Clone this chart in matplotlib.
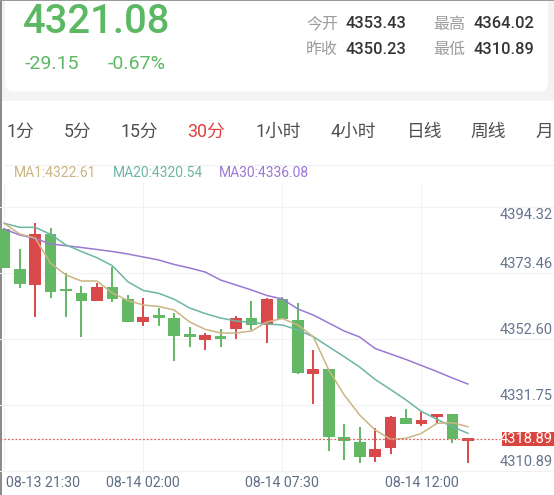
import matplotlib
matplotlib.use('Agg')
import matplotlib.pyplot as plt
from matplotlib.patches import FancyBboxPatch, Rectangle
from matplotlib.lines import Line2D

plt.rcParams['font.family'] = ['Roboto', 'Noto Sans CJK SC', 'DejaVu Sans']

##
# Data (30 min candles)
##
opens = [4387.37, 4374.73, 4369.77, 4385.69, 4367.77, 4367.05, 4364.71, 4368.94, 4365.15, 4358.07,
         4359.46, 4359.15, 4353.46, 4352.29, 4353.55, 4355.67, 4359.34, 4357.03, 4365.15, 4358.61,
         4341.55, 4343.03, 4321.54, 4320.15, 4315.41, 4318.06, 4327.74, 4325.74, 4327.86, 4328.90,
         4320.47]
highs = [4387.70, 4380.95, 4389.17, 4387.59, 4373.37, 4369.36, 4370.21, 4375.26, 4366.42, 4365.66,
         4362.31, 4360.92, 4356.30, 4354.41, 4355.67, 4359.87, 4364.71, 4365.56, 4365.97, 4364.08,
         4349.13, 4343.10, 4325.74, 4324.70, 4324.57, 4328.27, 4330.39, 4329.63, 4328.90, 4328.95,
         4321.22]
lows = [4374.90, 4368.82, 4359.65, 4365.47, 4359.65, 4353.33, 4364.60, 4364.39, 4357.88, 4356.81,
        4356.81, 4345.75, 4349.98, 4349.13, 4350.17, 4352.61, 4355.45, 4351.25, 4358.83, 4341.70,
        4331.97, 4317.31, 4314.37, 4313.32, 4313.83, 4316.26, 4325.70, 4325.11, 4325.96, 4319.65,
        4313.51]
closes = [4375.04, 4369.89, 4385.69, 4367.46, 4367.62, 4364.71, 4368.94, 4365.15, 4358.07, 4359.56,
          4359.24, 4353.65, 4353.23, 4353.87, 4352.51, 4359.34, 4357.03, 4365.15, 4359.02, 4341.77,
          4343.03, 4321.73, 4320.37, 4315.41, 4317.75, 4327.86, 4325.74, 4327.01, 4328.90, 4320.91,
          4321.08]
ma1 = [4389.17, 4385.79, 4384.52, 4376.53, 4372.83, 4370.93, 4370.93, 4367.14, 4364.77, 4363.35,
       4362.88, 4361.77, 4357.98, 4355.67, 4354.50, 4354.50, 4355.13, 4357.98, 4359.08, 4357.03,
       4353.33, 4342.81, 4334.91, 4328.59, 4323.85, 4320.91, 4321.22, 4322.80, 4325.96, 4326.16,
       4324.89]
ma20 = [4389.17, 4387.90, 4387.90, 4385.69, 4382.31, 4380.26, 4378.30, 4375.77, 4370.71, 4367.93,
        4367.05, 4365.15, 4362.40, 4360.66, 4359.24, 4358.29, 4357.82, 4357.35, 4357.03, 4355.45,
        4353.33, 4350.17, 4347.01, 4343.76, 4339.81, 4336.65, 4333.33, 4329.69, 4327.23, 4324.89,
        4322.80]
ma30 = [4387.37, 4385.47, 4384.43, 4382.63, 4382.09, 4381.52, 4380.89, 4380.26, 4379.47, 4378.52,
        4377.57, 4376.15, 4375.04, 4373.78, 4371.25, 4369.67, 4368.09, 4366.35, 4365.25, 4362.09,
        4360.19, 4357.66, 4355.13, 4353.24, 4349.60, 4347.87, 4346.13, 4344.23, 4342.33, 4340.28,
        4338.38]

y_ticks = [4310.89, 4331.75, 4352.60, 4373.46, 4394.32]
x_tick_idx = [0, 9, 18, 27]
x_tick_labels = ['08-13 21:30', '08-14 02:00', '08-14 07:30', '08-14 12:00']
last_price = 4321.08
last_label = '4318.89'

tabs = ['1分', '5分', '15分', '30分', '1小时', '4小时', '日线', '周线', '月']
tab_active = '30分'
ma_legend = ['MA1:4322.61', 'MA20:4320.54', 'MA30:4336.08']

UP = '#d9484a'
DOWN = '#63b866'
C_MA1 = '#ccb483'
C_MA20 = '#6db6a3'
C_MA30 = '#9b78d4'

W, H = 554, 495
fig = plt.figure(figsize=(W / 100, H / 100), dpi=100)

##
# Background / header (pixel coordinates)
##
bg = fig.add_axes([0, 0, 1, 1])
bg.set_xlim(0, W)
bg.set_ylim(H, 0)
bg.axis('off')
bg.add_patch(Rectangle((0, 0), W, 101, color='#f3f3f3', lw=0))
bg.add_patch(FancyBboxPatch((5, -20), 543, 111.5, boxstyle='round,pad=0,rounding_size=9',
                            fc='white', ec='none'))
bg.add_patch(Rectangle((0, 0), 1.8, H, color='#8c8c8c', lw=0))
bg.add_patch(Rectangle((0, 0), W, 1.2, color='#9a9a9a', lw=0))

green_txt = '#5cb862'
bg.text(23, 21.7, '4321.08', fontsize=28.8, fontweight='medium', color=green_txt, va='center', ha='left')
bg.text(25, 64, '-29.15', fontsize=14, color=green_txt, va='center', ha='left')
bg.text(108, 64, '-0.67%', fontsize=14, color=green_txt, va='center', ha='left')

stats = [('今开', '4353.43', 306, 24), ('最高', '4364.02', 433, 24),
         ('昨收', '4350.23', 306, 49.3), ('最低', '4310.89', 433, 49.3)]
for name, val, x, y in stats:
    bg.text(x, y, name, fontsize=11.5, color='#9b9b9b', va='center', ha='left')
    bg.text(x + 40, y, val, fontsize=11.8, fontweight='medium', color='#333333', va='center', ha='left')

tab_x = [6.5, 63.5, 121, 187.5, 255.5, 330.5, 406.5, 470.5, 536]
for t, x in zip(tabs, tab_x):
    col = '#e0403f' if t == tab_active else '#4f4f4f'
    bg.text(x, 132, t, fontsize=12.8, color=col, va='center', ha='left')

bg.add_line(Line2D([5, W], [165, 165], color='#f0f0f0', lw=0.8))

for t, x, c in zip(ma_legend, [13.4, 112.5, 218.6], [C_MA1, C_MA20, C_MA30]):
    bg.text(x, 173.3, t, fontsize=10, color=c, va='center', ha='left')

##
# Candle chart
##
top_px, bot_px = 183, 471
px_per_unit = (471 - 207) / (y_ticks[-1] - y_ticks[0])
ax = fig.add_axes([0, 1 - bot_px / H, 1, (bot_px - top_px) / H])
ax.patch.set_alpha(0)
for s in ax.spines.values():
    s.set_visible(False)
ax.set_xticks([])
ax.set_yticks([])

step = 15.455
x0 = 4.2
ax.set_xlim(-x0 / step, (W - x0) / step)
ax.set_ylim(y_ticks[0], y_ticks[-1] + (207 - top_px) / px_per_unit)

for v in y_ticks:
    ax.axhline(v, color='#f2f2f2', lw=0.8, zorder=0, clip_on=False)
for i in x_tick_idx:
    ax.axvline(i, color='#f2f2f2', lw=0.8, zorder=0)

xs = list(range(len(opens)))
colors = [UP if c >= o else DOWN for o, c in zip(opens, closes)]
min_h = 2.6 / px_per_unit
bottoms = [min(o, c) for o, c in zip(opens, closes)]
heights = [max(abs(c - o), min_h) for o, c in zip(opens, closes)]
ax.vlines(xs, lows, highs, colors=colors, lw=1.4, zorder=2)
ax.bar(xs, heights, bottom=bottoms, width=0.76, color=colors, lw=0, zorder=3)

ax.plot(xs, ma30, color=C_MA30, lw=1.1, zorder=4)
ax.plot(xs, ma20, color=C_MA20, lw=1.1, zorder=4)
ax.plot(xs, ma1, color=C_MA1, lw=1.1, zorder=4)

# current price line
ax.axhline(last_price, xmax=502 / W, color='#e06060', lw=0.9, ls=(0, (1.5, 1.5)), zorder=5)
box_h = 14 / px_per_unit
ax.add_patch(Rectangle((502 / W, last_price - box_h / 2), 1 - 502 / W, box_h,
                       transform=ax.get_yaxis_transform(), color='#d9443f', lw=0, zorder=6))
ax.text(553 / W, last_price, last_label, transform=ax.get_yaxis_transform(), fontsize=10.5,
        color='white', ha='right', va='center', zorder=7)

# y labels
ylab_col = '#66758c'
for k, v in enumerate(y_ticks):
    off = -8 if k == len(y_ticks) - 1 else 9
    ax.annotate('%.2f' % v, xy=(553 / W, v), xycoords=ax.get_yaxis_transform(),
                xytext=(0, off * 0.72), textcoords='offset points',
                fontsize=10.5, color=ylab_col, ha='right', va='center', zorder=7)

# x labels
for k, (i, lab) in enumerate(zip(x_tick_idx, x_tick_labels)):
    if k == 0:
        bg.text(6, 483.3, lab, fontsize=10.2, color='#5f6e85', ha='left', va='center')
    else:
        bg.text(x0 + i * step, 483.3, lab, fontsize=10.2, color='#5f6e85', ha='center', va='center')

fig.savefig('out.png', dpi=100)
